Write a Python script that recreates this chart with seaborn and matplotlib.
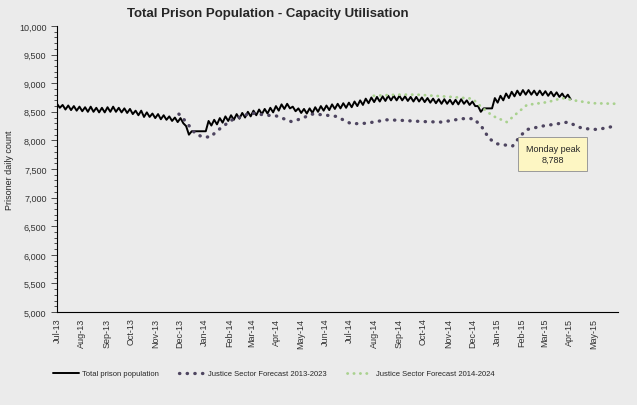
import pandas as pd
import matplotlib
matplotlib.use("Agg")
import matplotlib.pyplot as plt
import matplotlib.dates as mdates
from matplotlib.ticker import MultipleLocator, FuncFormatter
import seaborn as sns

# Total prison population: weekly Monday high / midweek low, from 1 Jul 2013
population = [
    8640, 8570, 8620, 8540, 8610, 8530, 8600, 8520, 8590, 8510, 8580, 8500,
    8590, 8500, 8570, 8490, 8570, 8490, 8580, 8500, 8590, 8500, 8570, 8490,
    8560, 8480, 8550, 8460, 8520, 8440, 8520, 8410, 8490, 8410, 8470, 8390,
    8460, 8370, 8440, 8360, 8420, 8340, 8400, 8320, 8390, 8300, 8250, 8100,
    8160, 8160, 8160, 8160, 8160, 8160, 8340, 8260, 8360, 8280, 8390, 8310,
    8420, 8340, 8440, 8360, 8460, 8380, 8480, 8400, 8500, 8420, 8520, 8440,
    8540, 8460, 8550, 8470, 8570, 8490, 8600, 8520, 8630, 8550, 8640, 8560,
    8590, 8510, 8560, 8480, 8550, 8470, 8560, 8480, 8580, 8500, 8600, 8520,
    8610, 8530, 8630, 8550, 8640, 8560, 8650, 8570, 8660, 8580, 8680, 8600,
    8700, 8620, 8730, 8650, 8750, 8670, 8760, 8680, 8770, 8690, 8780, 8700,
    8780, 8700, 8780, 8700, 8770, 8690, 8760, 8680, 8760, 8680, 8750, 8670,
    8740, 8660, 8730, 8650, 8720, 8640, 8720, 8640, 8710, 8630, 8710, 8630,
    8720, 8640, 8700, 8620, 8680, 8600, 8600, 8500, 8560, 8560, 8560, 8560,
    8740, 8660, 8780, 8700, 8820, 8740, 8850, 8770, 8870, 8790, 8880, 8800,
    8880, 8800, 8870, 8790, 8870, 8790, 8860, 8780, 8850, 8770, 8840, 8760,
    8820, 8740, 8800, 8720,
]
pop_dates = pd.date_range("2013-07-01", periods=len(population), freq="84h")

# Justice Sector Forecast 2013-2023
f13_dates = pd.to_datetime([
    "2013-11-30", "2013-12-08", "2013-12-21", "2013-12-30", "2014-01-09",
    "2014-01-15", "2014-02-03", "2014-02-28", "2014-03-19", "2014-03-31",
    "2014-04-19", "2014-05-02", "2014-05-14", "2014-05-27", "2014-06-14",
    "2014-07-03", "2014-07-22", "2014-08-16", "2014-09-04", "2014-09-29",
    "2014-10-24", "2014-11-18", "2014-12-03", "2014-12-13", "2014-12-22",
    "2015-01-01", "2015-01-20", "2015-01-30", "2015-02-07", "2015-02-26",
    "2015-03-17", "2015-03-30", "2015-04-17", "2015-05-06", "2015-05-31",
])
f13_values = [
    8460, 8340, 8110, 8060, 8060, 8150, 8350, 8480, 8440, 8430,
    8330, 8380, 8460, 8450, 8420, 8290, 8300, 8360, 8350, 8330,
    8320, 8380, 8380, 8230, 8030, 7940, 7900, 8080, 8190, 8250,
    8290, 8320, 8210, 8190, 8260,
]

# Justice Sector Forecast 2014-2024
f14_dates = pd.to_datetime([
    "2014-07-31", "2014-08-29", "2014-09-23", "2014-11-05", "2014-12-01",
    "2014-12-11", "2014-12-26", "2015-01-13", "2015-01-26", "2015-02-07",
    "2015-03-05", "2015-03-23", "2015-04-11", "2015-04-30", "2015-05-31",
])
f14_values = [
    8780, 8800, 8800, 8760, 8730, 8600, 8430, 8320, 8480, 8620,
    8670, 8740, 8690, 8650, 8640,
]

bg = "#ebebeb"
sns.set_theme(style="ticks")
plt.rcParams["font.family"] = ["Liberation Sans", "DejaVu Sans"]

fig = plt.figure(figsize=(6.37, 4.06), dpi=100, facecolor=bg)
ax = fig.add_axes([0.0895, 0.229, 0.881, 0.7045])
ax.set_facecolor(bg)

sns.lineplot(x=pop_dates, y=population, ax=ax, color="black", linewidth=1.4,
             label="Total prison population")
sns.lineplot(x=f13_dates, y=f13_values, ax=ax, color="#4e4560", linewidth=2.4,
             linestyle=(0, (0.1, 2.2)), dash_capstyle="round",
             label="Justice Sector Forecast 2013-2023")
sns.lineplot(x=f14_dates, y=f14_values, ax=ax, color="#a9d18e", linewidth=2.0,
             linestyle=(0, (0.1, 2.2)), dash_capstyle="round",
             label="Justice Sector Forecast 2014-2024")

ax.set_ylim(5000, 10000)
ax.set_xlim(pd.Timestamp("2013-07-01"), pd.Timestamp("2015-05-31 20:00"))
ax.yaxis.set_major_locator(MultipleLocator(500))
ax.yaxis.set_minor_locator(MultipleLocator(100))
ax.yaxis.set_major_formatter(FuncFormatter(lambda v, p: f"{int(v):,}"))
ax.xaxis.set_major_locator(mdates.MonthLocator())
ax.xaxis.set_major_formatter(mdates.DateFormatter("%b-%y"))
ax.tick_params(axis="y", which="major", labelsize=6.5, length=4, width=0.6,
               colors="#333333")
ax.tick_params(axis="y", which="minor", length=2, width=0.6, color="#333333")
ax.tick_params(axis="x", labelsize=6.5, length=0, rotation=90, colors="#333333",
               pad=4)
for s in ["top", "right"]:
    ax.spines[s].set_visible(False)
for s in ["left", "bottom"]:
    ax.spines[s].set_color("black")
    ax.spines[s].set_linewidth(0.8)

ax.set_ylabel("Prisoner daily count", fontsize=6.5, labelpad=4)
ax.set_xlabel("")

fig.text(0.42, 0.965, "Total Prison Population - Capacity Utilisation",
         ha="center", va="center", fontsize=9.5, fontweight="bold")

ax.text(pd.Timestamp("2015-03-11"), 7760, "Monday peak\n8,788", ha="center",
        va="center", fontsize=6.5,
        bbox=dict(boxstyle="square,pad=0.8", fc="#fdf6c3", ec="#9a9a9a", lw=0.7))

handles, labels = ax.get_legend_handles_labels()
ax.get_legend().remove()
fig.legend(handles, labels, loc="center", bbox_to_anchor=(0.43, 0.077), ncol=3,
           frameon=False, fontsize=5.5, handlelength=3.3, columnspacing=2.6,
           handletextpad=0.5)

fig.savefig("out.png", dpi=100, facecolor=bg)
